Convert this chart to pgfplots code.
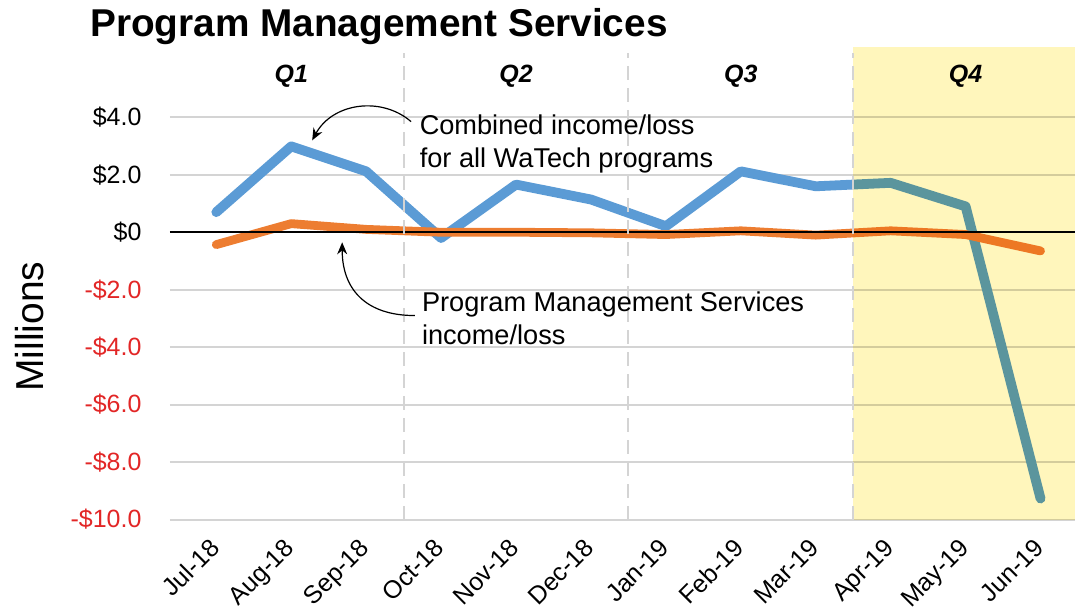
\documentclass[border=0pt]{standalone}
\usepackage{pgfplots}
\pgfplotsset{compat=1.18}
\usepackage{pgfplotstable}
\usepackage{fontspec}
\setmainfont{Liberation Sans}
\usetikzlibrary{arrows.meta}

\definecolor{lossblue}{RGB}{91,155,213}
\definecolor{lossorange}{RGB}{237,125,49}
\definecolor{qyellow}{RGB}{255,246,188}
\definecolor{negred}{RGB}{226,38,38}
\definecolor{gridgray}{RGB}{212,212,212}

% month index, combined WaTech, Program Management Services (millions)
\pgfplotstableread{
idx combined pms
0   0.70  -0.43
1   2.99   0.30
2   2.12   0.10
3  -0.20   0.00
4   1.66   0.00
5   1.14  -0.02
6   0.21  -0.08
7   2.12   0.05
8   1.60  -0.10
9   1.72   0.05
10  0.90  -0.08
11 -9.27  -0.65
}\pmsdata

\begin{document}
\begin{tikzpicture}
\begin{axis}[
    scale only axis, width=453pt, height=236.5pt,
    xmin=-0.62, xmax=11.46, ymin=-10, ymax=6.45,
    axis line style={draw=none},
    major tick length=0pt,
    xtick={0,...,11},
    xticklabels={Jul-18,Aug-18,Sep-18,Oct-18,Nov-18,Dec-18,Jan-19,Feb-19,Mar-19,Apr-19,May-19,Jun-19},
    xticklabel style={xshift=-4pt, yshift=-8.5pt, rotate=45, anchor=north east, inner sep=0pt,
        font=\fontsize{12.5}{15}\selectfont},
    ytick={-10,-8,...,4},
    yticklabels={\textcolor{negred}{-\$10.0},\textcolor{negred}{-\$8.0},\textcolor{negred}{-\$6.0},
        \textcolor{negred}{-\$4.0},\textcolor{negred}{-\$2.0},\$0,\$2.0,\$4.0},
    yticklabel style={inner sep=0pt, xshift=-14pt, font=\fontsize{12.5}{15}\selectfont},
    ymajorgrids, grid style={gridgray, line width=1pt},
    every axis plot/.append style={line width=4.9pt, line cap=round, line join=round, mark=none},
]
\addplot[lossblue] table[x=idx, y=combined] {\pmsdata};
\addplot[lossorange, line width=4.4pt] table[x=idx, y=pms] {\pmsdata};

% Q4 shading
\fill[qyellow, blend mode=multiply] (axis cs:8.5,-10) rectangle (axis cs:11.46,6.45);

% zero line and quarter separators
\draw[black, line width=0.8pt] (axis cs:-0.62,0) -- (axis cs:11.46,0);
\draw[gridgray, line width=1pt, dash pattern=on 7pt off 4pt] (axis cs:2.5,-10) -- (axis cs:2.5,6.24);
\draw[gridgray, line width=1pt, dash pattern=on 7pt off 4pt] (axis cs:5.5,-10) -- (axis cs:5.5,6.24);
\draw[gridgray, line width=1pt, dash pattern=on 7pt off 4pt] (axis cs:8.5,-10) -- (axis cs:8.5,6.24);

\node[font=\bfseries\itshape\fontsize{12.5}{15}\selectfont] at (axis cs:1,5.42) {Q1};
\node[font=\bfseries\itshape\fontsize{12.5}{15}\selectfont] at (axis cs:4,5.42) {Q2};
\node[font=\bfseries\itshape\fontsize{12.5}{15}\selectfont] at (axis cs:7,5.42) {Q3};
\node[font=\bfseries\itshape\fontsize{12.5}{15}\selectfont] at (axis cs:10,5.42) {Q4};

% annotations
\node[anchor=west, align=left, inner sep=0pt, font=\fontsize{13.6}{16.5}\selectfont]
  at (axis cs:2.71,3.06) {Combined income/loss\\for all WaTech programs};
\draw[-{Stealth[length=6pt,width=5pt]}, line width=0.6pt]
  (axis cs:2.60,3.85) .. controls (axis cs:2.2,4.75) and (axis cs:1.55,4.5) .. (axis cs:1.28,3.2);
\node[anchor=west, align=left, inner sep=0pt, font=\fontsize{13.6}{16.5}\selectfont]
  at (axis cs:2.74,-2.98) {Program Management Services\\income/loss};
\draw[-{Stealth[length=6pt,width=5pt]}, line width=0.6pt]
  (axis cs:2.65,-2.9) .. controls (axis cs:2.0,-2.9) and (axis cs:1.68,-2.0) .. (axis cs:1.68,-0.35);
\end{axis}

\node[anchor=base west, inner sep=0pt, font=\bfseries\fontsize{19.4}{23}\selectfont]
  at (-40pt,241.5pt) {Program Management Services};
\node[rotate=90, inner sep=0pt, font=\fontsize{19.5}{23}\selectfont] at (-70pt,96.5pt) {Millions};
\path (-85pt,-45.5pt) rectangle (453pt,260pt);
\end{tikzpicture}
\end{document}
